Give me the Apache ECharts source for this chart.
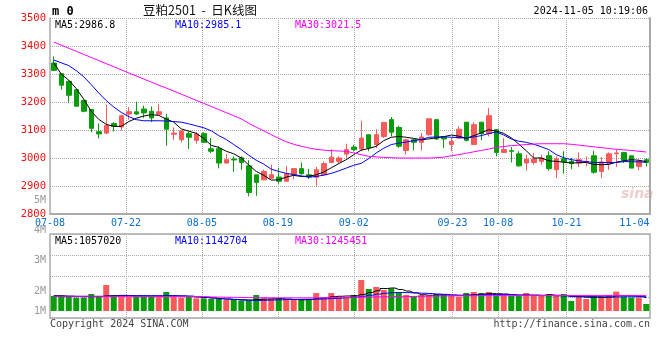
<!DOCTYPE html>
<html><head><meta charset="utf-8">
<script src="https://cdn.jsdelivr.net/npm/echarts@6/dist/echarts.min.js"></script>
<style>html,body{margin:0;padding:0;background:#fff}#c{width:660px;height:360px}</style>
</head><body><div id="c"></div>
<script>
const dates = ['07-08','07-09','07-10','07-11','07-12','07-15','07-16','07-17','07-18','07-19','07-22','07-23','07-24','07-25','07-26','07-29','07-30','07-31',
'08-01','08-02','08-05','08-06','08-07','08-08','08-09','08-12','08-13','08-14','08-15','08-16','08-19','08-20','08-21','08-22','08-23','08-26','08-27','08-28','08-29','08-30',
'09-02','09-03','09-04','09-05','09-06','09-09','09-10','09-11','09-12','09-13','09-18','09-19','09-20','09-23','09-24','09-25','09-26','09-27','09-30',
'10-08','10-09','10-10','10-11','10-14','10-15','10-16','10-17','10-18','10-21','10-22','10-23','10-24','10-25','10-28','10-29','10-30','10-31',
'11-01','11-04','11-05'];
const open  = [3339,3301,3274,3244,3206,3173,3094,3089,3123,3111,3157,3165,3175,3167,3155,3143,3085,3065,3087,3063,3087,3033,3033,2982,2996,3001,2972,2940,2922,2928,2932,2917,2940,2962,2940,2931,2940,2984,2988,3014,3039,3032,3083,3048,3077,3137,3109,3027,3065,3056,3083,3137,3077,3048,3071,3128,3048,3128,3087,3101,3020,3026,3015,2982,2984,2988,3008,2958,2997,2988,2982,2984,3008,2952,2980,3015,3020,3008,2970,2994];
const close = [3313,3260,3224,3185,3167,3106,3086,3116,3113,3151,3165,3157,3161,3143,3165,3103,3089,3097,3074,3086,3056,3024,2982,2994,2993,2984,2877,2913,2952,2940,2917,2944,2962,2944,2932,2958,2980,3003,3000,3030,3030,3071,3036,3083,3127,3092,3042,3065,3056,3075,3140,3068,3068,3059,3103,3063,3119,3087,3151,3020,3030,3024,2972,2996,2996,3000,2962,2997,2986,2980,2994,2988,2949,2986,3015,3018,2992,2964,2988,2984];
const low   = [3311,3244,3199,3183,3163,3092,3070,3085,3095,3098,3137,3154,3143,3128,3155,3044,3065,3056,3032,3051,3053,3018,2963,2980,2951,2958,2863,2865,2920,2925,2908,2917,2923,2940,2925,2901,2937,2982,2980,3000,3024,3024,3024,3036,3071,3077,3036,3012,3027,3027,3080,3065,3036,3024,3068,3059,3048,3063,3077,3006,3018,2984,2968,2955,2976,2976,2955,2928,2944,2960,2968,2970,2944,2928,2958,2968,2982,2964,2956,2970];
const high  = [3363,3302,3275,3246,3207,3174,3123,3191,3128,3155,3182,3201,3187,3184,3194,3158,3110,3097,3095,3093,3092,3071,3042,3014,3006,3006,2992,2940,2958,2976,2964,2972,2964,2984,2961,2968,2987,3032,3006,3051,3047,3133,3083,3103,3127,3146,3115,3068,3068,3089,3140,3137,3077,3071,3113,3128,3128,3128,3178,3103,3071,3039,3024,3012,3018,3012,3024,3006,3024,3000,3020,3006,3026,3003,3020,3030,3020,3008,2994,3000];
const ma5  = [3340,3300,3278,3248,3210,3167,3138,3120,3113,3113,3130,3142,3150,3155,3152,3139,3128,3104,3096,3088,3070,3045,3038,3024,3015,3000,2975,2952,2938,2921,2922,2932,2938,2934,2935,2940,2950,2965,2980,2994,3012,3028,3034,3042,3062,3074,3077,3074,3070,3065,3068,3072,3076,3082,3078,3070,3080,3090,3101,3096,3088,3072,3050,3026,3000,3000,2990,2988,2985,2982,2983,2984,2977,2976,2977,2985,2990,2994,2992,2986.8];
const ma10 = [3350,3340,3330,3312,3290,3262,3232,3205,3182,3163,3148,3137,3133,3133,3133,3132,3130,3128,3122,3115,3108,3097,3080,3066,3048,3030,3010,2992,2978,2960,2952,2945,2941,2936,2932,2934,2939,2945,2954,2964,2974,2981,2998,3018,3035,3048,3053,3057,3062,3066,3074,3075,3076,3074,3073,3071,3075,3080,3087,3093,3082,3068,3060,3056,3049,3040,3030,3012,3001,2994,2990,2987,2984,2984,2984,2984,2987,2987,2986,2985.1];
const ma30 = [3414,3403,3392,3381,3370,3359,3348,3337,3326,3315,3304,3293,3282,3271,3260,3250,3239,3228,3217,3206,3195,3184,3173,3162,3151,3140,3124,3110,3097,3083,3070,3058,3049,3042,3036,3031,3028,3026,3025,3024,3018,3012,3006,3004,3002,3001,3000,3000,3000,3000,3000,3001,3003,3008,3012,3017,3022,3027,3032,3038,3041,3044,3046,3048,3050,3051,3051,3051,3051,3049,3046,3043,3040,3037,3034,3031,3029,3027,3024,3021.5];
const volume = [1200000,1280000,1200000,1070000,1070000,1360000,1200000,2080000,1200000,1150000,1150000,1200000,1150000,1150000,1150000,1520000,1150000,1070000,1200000,1010000,1010000,960000,960000,880000,960000,830000,830000,1280000,1010000,960000,960000,880000,880000,960000,960000,1440000,1010000,1440000,1070000,1070000,1280000,2480000,1760000,1920000,1680000,1810000,1470000,1280000,1200000,1280000,1230000,1360000,1360000,1200000,1150000,1440000,1520000,1440000,1520000,1280000,1280000,1200000,1200000,1440000,1280000,1200000,1360000,1200000,1360000,800000,1200000,960000,1200000,1200000,1280000,1550000,1150000,1070000,1070000,560000];
const volMa5 = [1230000,1200000,1180000,1160000,1150000,1150000,1160000,1220000,1240000,1250000,1240000,1220000,1200000,1180000,1170000,1220000,1200000,1180000,1160000,1120000,1080000,1040000,980000,960000,930000,900000,880000,920000,950000,980000,1000000,960000,920000,900000,920000,1000000,1050000,1140000,1180000,1200000,1220000,1330000,1480000,1620000,1800000,1840000,1720000,1600000,1450000,1300000,1260000,1280000,1280000,1270000,1260000,1270000,1320000,1350000,1400000,1380000,1360000,1300000,1260000,1270000,1280000,1260000,1300000,1260000,1240000,1150000,1140000,1100000,1100000,1080000,1120000,1240000,1240000,1220000,1180000,1057020];
const volMa10 = [1200000,1190000,1180000,1170000,1170000,1170000,1170000,1180000,1200000,1220000,1230000,1230000,1230000,1230000,1230000,1230000,1230000,1220000,1200000,1150000,1100000,1050000,1000000,950000,920000,880000,850000,850000,860000,880000,900000,920000,920000,930000,940000,950000,970000,1000000,1030000,1070000,1100000,1180000,1260000,1350000,1420000,1470000,1480000,1470000,1450000,1420000,1400000,1360000,1330000,1280000,1250000,1250000,1270000,1300000,1320000,1320000,1310000,1300000,1280000,1260000,1240000,1230000,1230000,1220000,1200000,1180000,1160000,1150000,1140000,1130000,1120000,1130000,1140000,1140000,1140000,1142704];
const volMa30 = [1180000,1180000,1180000,1180000,1180000,1175000,1175000,1175000,1170000,1170000,1170000,1170000,1165000,1165000,1165000,1160000,1160000,1160000,1155000,1155000,1150000,1120000,1110000,1100000,1090000,1080000,1070000,1060000,1060000,1050000,1050000,1050000,1050000,1050000,1050000,1050000,1060000,1070000,1080000,1090000,1100000,1110000,1120000,1130000,1140000,1150000,1150000,1160000,1170000,1180000,1190000,1200000,1210000,1215000,1220000,1225000,1225000,1230000,1230000,1230000,1230000,1230000,1232000,1234000,1236000,1238000,1240000,1240000,1240000,1242000,1242000,1243000,1243000,1244000,1244000,1245000,1245000,1245000,1245000,1245451];
const priceMin = 2800, priceMax = 3500, priceStep = 100;
const labelIdx = [0,10,20,30,40,53,59,68,78];
const vGridIdx = [10,20,30,40,53,59,68];
const volAxisLabels = ['5M','4M','3M','2M','1M'];
const volAxisLabelY = [200,230,260,291,311];
const legendMain = ['MA5:2986.8','MA10:2985.1','MA30:3021.5'];
const legendVol = ['MA5:1057020','MA10:1142704','MA30:1245451'];

const mono = '"DejaVu Sans Mono", monospace';
const UP = '#f65a5a', DN = '#0a9c0a';
const GRID = '#aaaaaa';
const MA_COLORS = ['#000000','#0000ff','#ff00ff'];

const chart = echarts.init(document.getElementById('c'), null, {renderer:'canvas'});

const candleData = dates.map((d,i)=>[open[i],close[i],low[i],high[i]]);
const volData = volume.map((v,i)=>({value:v, itemStyle:{color: close[i] >= open[i] ? UP : DN}}));

const graphics = [
  {type:'text', left:52, top:6, style:{text:'m 0', font:'bold 12px '+mono, fill:'#000'}},
  {type:'text', x:200, y:4, style:{text:'豆粕2501  -  日K线图', font:'12.5px "Noto Sans CJK SC", sans-serif', fill:'#111', textAlign:'center'}},
  {type:'text', x:648, y:6, style:{text:'2024-11-05 10:19:06', font:'10px '+mono, fill:'#000', textAlign:'right'}},
  {type:'text', x:50, y:319, style:{text:'Copyright 2024 SINA.COM', font:'10px '+mono, fill:'#444'}},
  {type:'text', x:650, y:319, style:{text:'http://finance.sina.com.cn', font:'10px '+mono, fill:'#444', textAlign:'right'}},
  {type:'text', x:621, y:187, style:{text:'sina', font:'italic bold 14px "DejaVu Sans", sans-serif', fill:'#eec4c4', opacity:0.85}}
];
legendMain.forEach((t,k)=>graphics.push({type:'text', x:55+120*k, y:20, style:{text:t, font:'10px '+mono, fill:MA_COLORS[k]}}));
legendVol.forEach((t,k)=>graphics.push({type:'text', x:55+120*k, y:236, style:{text:t, font:'10px '+mono, fill:MA_COLORS[k]}}));
volAxisLabels.forEach((t,k)=>graphics.push({type:'text', x:46, y:volAxisLabelY[k], style:{text:t, font:'10px '+mono, fill:'#999', textAlign:'right', textVerticalAlign:'middle'}}));

const lineSeries = (name, data, color, xi, yi, step) => ({
  name, type:'line', data, xAxisIndex:xi, yAxisIndex:yi, symbol:'none', step: step || false,
  lineStyle:{color, width:1}, itemStyle:{color}, silent:true, z:3
});

chart.setOption({
  animation:false,
  backgroundColor:'#fff',
  grid:[
    {left:50, top:18, width:600, height:196},
    {left:50, top:234, width:600, height:84, show:true, borderColor:GRID, borderWidth:1.5}
  ],
  xAxis:[
    {type:'category', gridIndex:0, data:dates, boundaryGap:true, show:false},
    {type:'category', gridIndex:0, data:dates, boundaryGap:false, position:'bottom',
     axisLine:{show:true, lineStyle:{color:GRID, width:2}}, axisTick:{show:false},
     axisLabel:{interval:(i)=>labelIdx.includes(i), color:'#0a6fd0', fontFamily:mono, fontSize:10, margin:4,
       formatter:(v,i)=> i===78 ? '{e|'+v+'}' : v,
       rich:{e:{color:'#0a6fd0', fontFamily:mono, fontSize:10, padding:[0,16,0,0]}}},
     splitLine:{show:true, interval:(i)=>vGridIdx.includes(i), lineStyle:{type:'dotted', color:GRID}}},
    {type:'category', gridIndex:1, data:dates, boundaryGap:true, show:false},
    {type:'category', gridIndex:1, data:dates, boundaryGap:false, position:'bottom',
     axisLine:{show:false}, axisTick:{show:false}, axisLabel:{show:false},
     splitLine:{show:true, interval:(i)=>vGridIdx.includes(i), lineStyle:{type:'dotted', color:GRID}}}
  ],
  yAxis:[
    {type:'value', gridIndex:0, min:priceMin, max:priceMax, interval:priceStep, position:'left',
     axisLine:{show:true, lineStyle:{color:GRID, width:1.5}}, axisTick:{show:false},
     axisLabel:{color:'#ee1111', fontFamily:mono, fontSize:10.5, margin:4, formatter:(v)=>String(v)},
     splitLine:{show:true, lineStyle:{type:'dotted', color:GRID}}},
    {type:'value', gridIndex:0, min:priceMin, max:priceMax, position:'right',
     axisLine:{show:true, lineStyle:{color:GRID, width:2}}, axisTick:{show:false}, axisLabel:{show:false}, splitLine:{show:false}},
    {type:'value', gridIndex:1, min:0, max:4, interval:1,
     axisLine:{show:false}, axisTick:{show:false}, axisLabel:{show:false},
     splitLine:{show:true, lineStyle:{type:'dotted', color:GRID}}},
    {type:'value', gridIndex:1, min:-560000, max:6160000, show:false, splitLine:{show:false}}
  ],
  series:[
    {type:'candlestick', xAxisIndex:0, yAxisIndex:0, data:candleData, barWidth:5, silent:true,
     itemStyle:{color:UP, color0:DN, borderColor:UP, borderColor0:DN, borderWidth:1}},
    lineSeries('MA5', ma5, MA_COLORS[0], 0, 0),
    lineSeries('MA10', ma10, MA_COLORS[1], 0, 0),
    lineSeries('MA30', ma30, MA_COLORS[2], 0, 0),
    {type:'bar', xAxisIndex:2, yAxisIndex:3, data:volData, barWidth:6, silent:true},
    lineSeries('VMA5', volMa5, MA_COLORS[0], 2, 3, 'middle'),
    lineSeries('VMA10', volMa10, MA_COLORS[1], 2, 3, 'middle'),
    lineSeries('VMA30', volMa30, MA_COLORS[2], 2, 3, 'middle')
  ],
  graphic: graphics
});
</script></body></html>
